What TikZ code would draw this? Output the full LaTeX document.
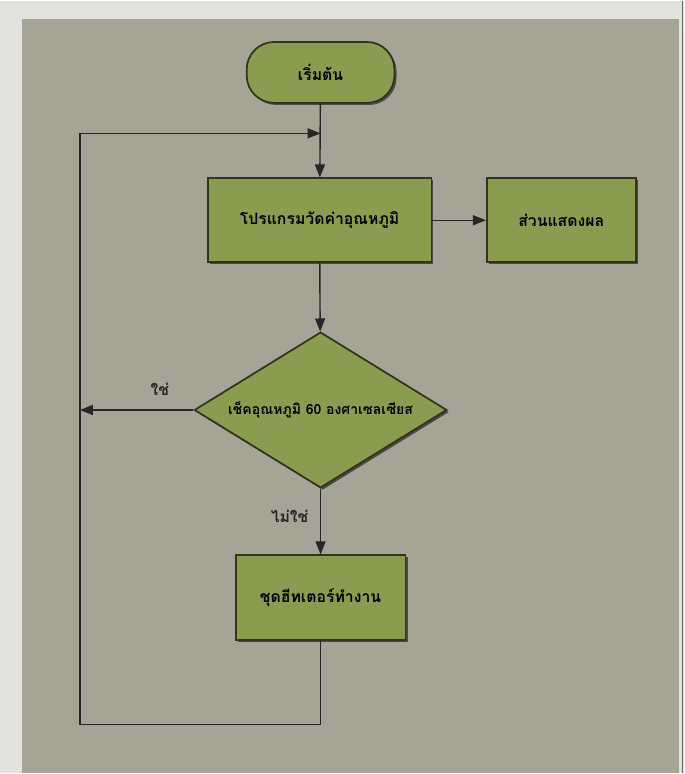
\documentclass[tikz,border=0pt]{standalone}
\usepackage{fontspec}
\newfontfamily\thaifont[Script=Thai]{Loma}
\usetikzlibrary{shapes.geometric,arrows.meta,shadows}

\definecolor{pagegray}{HTML}{E2E2DE}
\definecolor{panelgray}{HTML}{A6A497}
\definecolor{boxgreen}{HTML}{8A9C50}
\definecolor{boxedge}{HTML}{34341C}

\begin{document}
\begin{tikzpicture}[x=0.02cm,y=-0.02cm,
    thaitext/.style={font=\fontsize{9}{11}\selectfont\thaifont\bfseries},
    shape base/.style={thaitext, draw=boxedge, line width=1pt, fill=boxgreen,
        drop shadow={shadow xshift=1.2pt, shadow yshift=-1.2pt, fill=black, opacity=0.55}},
    block/.style={shape base, rectangle, minimum height=1.68cm},
    startstop/.style={shape base, rectangle, rounded corners=0.55cm,
        minimum width=2.96cm, minimum height=1.22cm},
    decision/.style={shape base, diamond, inner sep=-6pt, aspect=1.62,
        minimum width=5.06cm, minimum height=3.12cm,
        font=\fontsize{8}{10}\selectfont\thaifont\bfseries},
    line/.style={draw=black!85, line width=0.8pt},
    flow/.style={line, -{Triangle[length=2.6mm,width=2mm]}},
    answer/.style={thaitext, text=black!85},
  ]

% page and panel
\fill[pagegray] (0,0) rectangle (685,774);
\fill[panelgray] (22,18) rectangle (680,774);
\draw[black!60, line width=0.6pt] (683,0) -- (683,774);

% nodes
\node[startstop] (start) at (321,72) {เริ่มต้น};
\node[block, minimum width=4.48cm] (prog) at (320,220) {โปรแกรมวัดค่าอุณหภูมิ};
\node[block, minimum width=2.98cm] (disp) at (562,220) {ส่วนแสดงผล};
\node[decision] (check) at (321,410) {เช็คอุณหภูมิ 60 องศาเซลเซียส};
\node[block, minimum width=3.4cm, minimum height=1.7cm] (heat) at (321,598) {ชุดฮีทเตอร์ทำงาน};

% loop corners
\coordinate (merge) at (321,133);
\coordinate (yesend) at (80,410);
\coordinate (loopbr) at (321,725);
\coordinate (loopbl) at (80,725);
\coordinate (looptl) at (80,133);

% connectors
\draw[flow] (start) -- (prog);
\draw[flow] (prog) -- (disp);
\draw[flow] (prog) -- (check);
\draw[flow] (check.west) -- (yesend);
\draw[flow] (check) -- (heat);
\draw[line] (heat) -- (loopbr) -- (loopbl) -- (looptl);
\draw[flow] (looptl) -- (merge);

% answers
\node[answer] (yes) at (160,389) {ใช่};
\node[answer] (no) at (290,517) {ไม่ใช่};

\end{tikzpicture}
\end{document}
